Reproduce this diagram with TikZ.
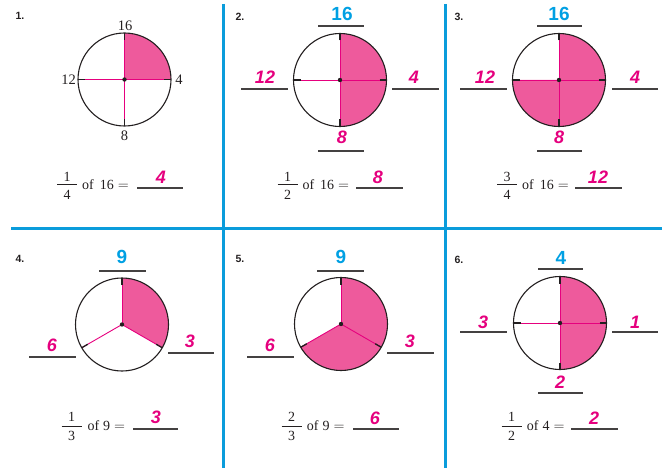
\documentclass[tikz,border=0pt]{standalone}
\usepackage{fontspec}
\setmainfont{Liberation Serif}
\setsansfont{Liberation Sans}
\usetikzlibrary{positioning}
\definecolor{wedge}{HTML}{EE5A9C}
\definecolor{spk}{HTML}{E6007E}
\definecolor{ansmag}{HTML}{E5007E}
\definecolor{cueblue}{HTML}{00A0E3}
\definecolor{divblue}{HTML}{0A9CDB}
\definecolor{ink}{HTML}{231F20}

\begin{document}
\begin{tikzpicture}[x=1pt,y=-1pt,
  rim/.style={draw=ink,line width=1.1pt},
  spoke/.style={draw=spk,line width=0.9pt},
  rimtick/.style={draw=ink,line width=1.3pt},
  blank/.style={draw=ink!85,line width=1.1pt},
  fbar/.style={draw=ink,line width=0.7pt},
  divider/.style={draw=divblue,line width=2.5pt},
  cue/.style={inner sep=0pt,text=cueblue,font=\sffamily\bfseries\fontsize{19}{19}\selectfont},
  ans/.style={inner sep=0pt,text=ansmag,font=\sffamily\bfseries\itshape\fontsize{18}{18}\selectfont},
  pnum/.style={inner sep=0pt,text=ink,font=\sffamily\bfseries\fontsize{10.5}{10.5}\selectfont},
  rimlbl/.style={inner sep=0pt,text=ink,font=\fontsize{14.5}{14.5}\selectfont},
  frc/.style={inner sep=0pt,text=ink,font=\fontsize{14}{14}\selectfont}]
\useasboundingbox (0,0) rectangle (664,468);
% ---- dividers ----
\draw[divider] (223.5,4) -- (223.5,468);
\draw[divider] (445.5,4) -- (445.5,468);
\draw[divider] (11,228.5) -- (662,228.5);
% ---- panel numbers ----
\node[pnum] (n1) at (20,16) {1.};
\node[pnum] (n2) at (240,16.5) {2.};
\node[pnum] (n3) at (459,16.5) {3.};
\node[pnum] (n4) at (20,258.5) {4.};
\node[pnum] (n5) at (240,258.5) {5.};
\node[pnum] (n6) at (459,259.5) {6.};
% ---- 1. quarter of 16 ----
\begin{scope}[shift={(124.5,79.5)}]
\fill[wedge] (0,0) -- (-90:46.5) arc[start angle=-90,end angle=0,radius=46.5] -- cycle;
\foreach \a in {-90,0,90,180} {
  \draw[spoke] (0,0) -- (\a:46.5);
  \draw[rimtick] (\a:39.5) -- (\a:46.5);
}
\draw[rim] (0,0) circle[radius=46.5];
\fill[ink] (0,0) circle[radius=2.2];
\node[rimlbl] (r1t) at (0.5,-54) {16};
\node[rimlbl] (r1l) at (-56,0.5) {12};
\node[rimlbl] (r1r) at (54.5,0.5) {4};
\node[rimlbl] (r1b) at (0,56) {8};
\end{scope}
\node[frc] (f1n) at (67,177) {1};
\node[frc] (f1d) at (67,194.5) {4};
\draw[fbar] (57,184.5) -- (77,184.5);
\node[frc,anchor=base west] (f1t) at (82,189.3) {of\hspace{6pt}16\hspace{4pt}$=$};
\draw[blank] (137,188) -- (183,188);
\node[ans] (a1) at (161,177) {4};
% ---- 2. half of 16 ----
\begin{scope}[shift={(340,80)}]
\fill[wedge] (0,0) -- (-90:46.5) arc[start angle=-90,end angle=90,radius=46.5] -- cycle;
\foreach \a in {-90,0,90,180} {
  \draw[spoke] (0,0) -- (\a:46.5);
  \draw[rimtick] (\a:39.5) -- (\a:46.5);
}
\draw[rim] (0,0) circle[radius=46.5];
\fill[ink] (0,0) circle[radius=2.2];
\node[cue] (c2t) at (2,-66) {16};
\draw[blank] (-22,-54) -- (24,-54);
\node[ans] (c2l) at (-75,-3) {12};
\draw[blank] (-99,9) -- (-52,9);
\node[ans] (c2r) at (74,-3) {4};
\draw[blank] (52,9) -- (99,9);
\node[ans] (c2b) at (2,57) {8};
\draw[blank] (-22,71) -- (24,71);
\end{scope}
\node[frc] (f2n) at (287.7,177) {1};
\node[frc] (f2d) at (287.7,194.5) {2};
\draw[fbar] (277.7,184.5) -- (297.7,184.5);
\node[frc,anchor=base west] (f2t) at (302.3,189.3) {of\hspace{6pt}16\hspace{4pt}$=$};
\draw[blank] (356,188) -- (403,188);
\node[ans] (a2) at (378,177) {8};
% ---- 3. three quarters of 16 ----
\begin{scope}[shift={(559,80)}]
\fill[wedge] (0,0) -- (-90:46.5) arc[start angle=-90,end angle=180,radius=46.5] -- cycle;
\foreach \a in {-90,0,90,180} {
  \draw[spoke] (0,0) -- (\a:46.5);
  \draw[rimtick] (\a:39.5) -- (\a:46.5);
}
\draw[rim] (0,0) circle[radius=46.5];
\fill[ink] (0,0) circle[radius=2.2];
\node[cue] (c3t) at (0,-66) {16};
\draw[blank] (-22,-54) -- (23,-54);
\node[ans] (c3l) at (-74,-3) {12};
\draw[blank] (-99,9) -- (-52,9);
\node[ans] (c3r) at (76,-3) {4};
\draw[blank] (53,9) -- (99,9);
\node[ans] (c3b) at (0,57) {8};
\draw[blank] (-22,71) -- (23,71);
\end{scope}
\node[frc] (f3n) at (507,177) {3};
\node[frc] (f3d) at (507,194.5) {4};
\draw[fbar] (497,184.5) -- (517,184.5);
\node[frc,anchor=base west] (f3t) at (522,189.3) {of\hspace{6pt}16\hspace{4pt}$=$};
\draw[blank] (575,188) -- (622,188);
\node[ans] (a3) at (598,177) {12};
% ---- 4. third of 9 ----
\begin{scope}[shift={(122,324.5)}]
\fill[wedge] (0,0) -- (-90:46.5) arc[start angle=-90,end angle=30,radius=46.5] -- cycle;
\foreach \a in {-90,30,150} {
  \draw[spoke] (0,0) -- (\a:46.5);
  \draw[rimtick] (\a:39.5) -- (\a:46.5);
}
\draw[rim] (0,0) circle[radius=46.5];
\fill[ink] (0,0) circle[radius=2.2];
\node[cue] (c4t) at (0,-67.5) {9};
\draw[blank] (-23,-53.5) -- (24,-53.5);
\node[ans] (c4l) at (-70,20.5) {6};
\draw[blank] (-93,32.5) -- (-46,32.5);
\node[ans] (c4r) at (68,16.5) {3};
\draw[blank] (46,28.5) -- (92,28.5);
\end{scope}
\node[frc] (f4n) at (71.7,416.7) {1};
\node[frc] (f4d) at (71.7,436) {3};
\draw[fbar] (61.7,426) -- (81.7,426);
\node[frc,anchor=base west] (f4t) at (87.3,430.8) {of\hspace{4pt}9\hspace{4pt}$=$};
\draw[blank] (133,429) -- (178,429);
\node[ans] (a4) at (156,417.5) {3};
% ---- 5. two thirds of 9 ----
\begin{scope}[shift={(341,324)}]
\fill[wedge] (0,0) -- (-90:46.5) arc[start angle=-90,end angle=150,radius=46.5] -- cycle;
\foreach \a in {-90,30,150} {
  \draw[spoke] (0,0) -- (\a:46.5);
  \draw[rimtick] (\a:39.5) -- (\a:46.5);
}
\draw[rim] (0,0) circle[radius=46.5];
\fill[ink] (0,0) circle[radius=2.2];
\node[cue] (c5t) at (0,-67) {9};
\draw[blank] (-24,-53) -- (23,-53);
\node[ans] (c5l) at (-71,21) {6};
\draw[blank] (-94,33) -- (-47,33);
\node[ans] (c5r) at (69,17) {3};
\draw[blank] (46,29) -- (93,29);
\end{scope}
\node[frc] (f5n) at (291.7,416.7) {2};
\node[frc] (f5d) at (291.7,436) {3};
\draw[fbar] (281.7,426) -- (301.7,426);
\node[frc,anchor=base west] (f5t) at (306.7,430.8) {of\hspace{4pt}9\hspace{4pt}$=$};
\draw[blank] (353,429) -- (399,429);
\node[ans] (a5) at (375,418) {6};
% ---- 6. half of 4 ----
\begin{scope}[shift={(560,323)}]
\fill[wedge] (0,0) -- (-90:46.5) arc[start angle=-90,end angle=90,radius=46.5] -- cycle;
\foreach \a in {-90,0,90,180} {
  \draw[spoke] (0,0) -- (\a:46.5);
  \draw[rimtick] (\a:39.5) -- (\a:46.5);
}
\draw[rim] (0,0) circle[radius=46.5];
\fill[ink] (0,0) circle[radius=2.2];
\node[cue] (c6t) at (1,-65) {4};
\draw[blank] (-22,-54) -- (23,-54);
\node[ans] (c6l) at (-77,-1) {3};
\draw[blank] (-100,9) -- (-53,9);
\node[ans] (c6r) at (75,-1) {1};
\draw[blank] (52,9) -- (98,9);
\node[ans] (c6b) at (0,59) {2};
\draw[blank] (-22,70) -- (23,70);
\end{scope}
\node[frc] (f6n) at (511.7,416.7) {1};
\node[frc] (f6d) at (511.7,436) {2};
\draw[fbar] (501.7,426) -- (521.7,426);
\node[frc,anchor=base west] (f6t) at (526.7,430.8) {of\hspace{4pt}4\hspace{4pt}$=$};
\draw[blank] (571,429) -- (618,429);
\node[ans] (a6) at (594,418) {2};
\end{tikzpicture}
\end{document}
